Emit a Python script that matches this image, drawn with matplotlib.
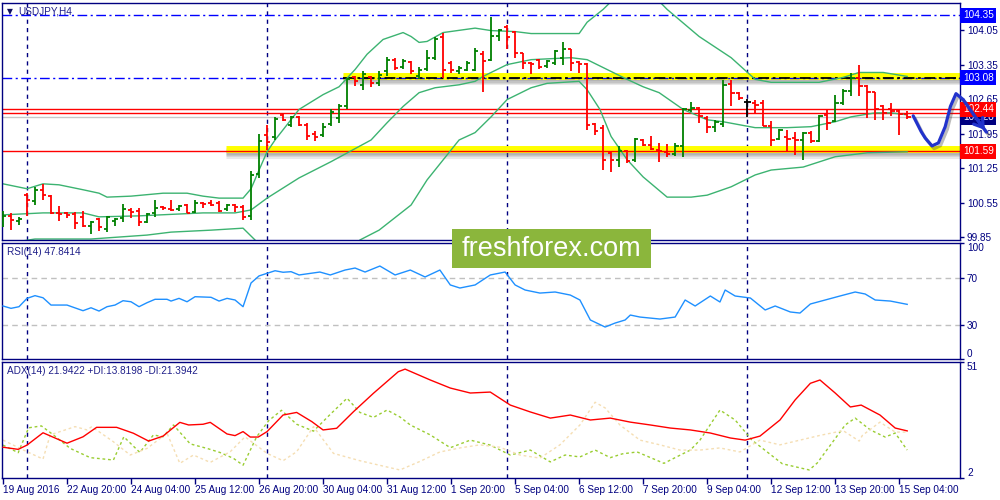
import matplotlib
matplotlib.use('Agg')
import matplotlib.pyplot as plt
import matplotlib.patheffects as pe
import matplotlib.transforms as mtransforms
from matplotlib.patches import Rectangle

plt.rcParams['font.family'] = ['Liberation Sans', 'DejaVu Sans']

# ---- USDJPY H4 bars (bar 0 = 19 Aug 2016 12:00) ----
opens = [100.22, 100.27, 100.18, 100.70, 100.58, 100.81, 100.68, 100.34, 100.33, 100.32,
         100.26, 100.07, 100.21, 100.01, 100.18, 100.23, 100.40, 100.38, 100.15, 100.33,
         100.45, 100.42, 100.41, 100.50, 100.36, 100.54, 100.55, 100.54, 100.41, 100.50,
         100.46, 100.27, 101.12, 101.93, 101.89, 102.33, 102.13, 102.29, 102.13, 101.95,
         101.93, 102.15, 102.27, 102.50, 103.09, 102.94, 103.09, 102.97, 103.21, 103.45,
         103.31, 103.41, 103.11, 103.27, 103.49, 103.90, 103.39, 103.21, 103.25, 103.25,
         103.56, 103.45, 103.94, 104.12, 104.01, 103.58, 103.39, 103.44, 103.33, 103.39,
         103.49, 103.66, 103.40, 103.37, 102.15, 102.06, 101.55, 101.42, 101.59, 101.42,
         101.82, 101.72, 101.62, 101.58, 101.54, 101.69, 102.43, 102.47, 102.26, 102.09,
         102.15, 102.96, 102.77, 102.60, 102.58, 102.57, 102.11, 101.84, 101.89, 101.86,
         101.82, 101.97, 101.79, 102.33, 102.20, 102.57, 102.81, 103.08, 102.91, 102.79,
         102.50, 102.44, 102.40, 102.35]
highs = [100.38, 100.33, 100.26, 100.74, 100.87, 100.92, 100.70, 100.48, 100.36, 100.36,
         100.38, 100.18, 100.24, 100.27, 100.24, 100.52, 100.43, 100.43, 100.33, 100.60,
         100.48, 100.60, 100.50, 100.52, 100.60, 100.57, 100.60, 100.58, 100.52, 100.52,
         100.50, 101.20, 101.95, 102.13, 102.29, 102.37, 102.30, 102.31, 102.16, 102.00,
         102.16, 102.44, 102.56, 103.08, 103.11, 103.23, 103.11, 103.23, 103.51, 103.49,
         103.47, 103.42, 103.30, 103.64, 103.90, 104.00, 103.42, 103.32, 103.42, 103.69,
         103.62, 104.32, 104.08, 104.15, 104.03, 103.59, 103.40, 103.47, 103.45, 103.64,
         103.81, 103.67, 103.42, 103.39, 102.16, 102.13, 101.59, 101.69, 101.62, 101.86,
         101.84, 101.91, 101.76, 101.74, 101.76, 102.47, 102.60, 102.49, 102.30, 102.23,
         103.04, 103.03, 102.79, 102.65, 102.64, 102.63, 102.20, 102.05, 102.03, 101.99,
         101.99, 102.00, 102.33, 102.44, 102.74, 102.86, 103.18, 103.35, 102.94, 102.79,
         102.54, 102.58, 102.45, 102.40]
lows = [100.05, 99.99, 100.10, 100.27, 100.50, 100.60, 100.31, 100.18, 100.23, 100.02,
        100.05, 99.92, 99.98, 99.96, 100.07, 100.16, 100.23, 100.07, 100.13, 100.26,
        100.40, 100.38, 100.38, 100.33, 100.34, 100.43, 100.48, 100.36, 100.38, 100.36,
        100.20, 100.20, 101.05, 101.62, 101.82, 102.20, 102.08, 102.11, 101.82, 101.80,
        101.89, 102.10, 102.16, 102.44, 102.91, 102.84, 102.90, 102.92, 103.11, 103.25,
        103.26, 103.15, 103.05, 103.23, 103.45, 103.08, 103.18, 103.15, 103.22, 103.22,
        102.79, 103.43, 103.83, 103.66, 103.49, 103.26, 103.15, 103.26, 103.28, 103.35,
        103.35, 103.22, 103.18, 102.03, 101.92, 101.21, 101.18, 101.28, 101.36, 101.38,
        101.69, 101.62, 101.38, 101.48, 101.50, 101.47, 102.38, 102.16, 101.96, 101.99,
        102.08, 102.51, 102.63, 102.28, 102.37, 102.10, 101.69, 101.81, 101.57, 101.52,
        101.42, 101.76, 101.77, 102.03, 102.18, 102.54, 102.72, 102.71, 102.27, 102.23,
        102.22, 102.31, 101.93, 102.24]
closes = [100.27, 100.19, 100.22, 100.60, 100.81, 100.70, 100.33, 100.32, 100.30, 100.13,
          100.07, 100.16, 100.06, 100.25, 100.22, 100.41, 100.36, 100.15, 100.32, 100.43,
          100.43, 100.39, 100.48, 100.34, 100.54, 100.52, 100.50, 100.38, 100.50, 100.46,
          100.26, 101.10, 101.80, 101.78, 102.25, 102.23, 102.29, 102.13, 101.90, 101.88,
          102.09, 102.39, 102.50, 103.05, 103.01, 103.15, 102.97, 103.13, 103.45, 103.29,
          103.43, 103.21, 103.25, 103.49, 103.86, 103.25, 103.25, 103.29, 103.39, 103.62,
          103.43, 103.94, 104.05, 103.90, 103.59, 103.39, 103.37, 103.31, 103.42, 103.62,
          103.67, 103.39, 103.37, 102.13, 102.01, 101.42, 101.42, 101.59, 101.40, 101.84,
          101.72, 101.63, 101.59, 101.54, 101.69, 102.45, 102.46, 102.30, 102.09, 102.19,
          102.94, 102.77, 102.67, 102.60, 102.53, 102.11, 101.82, 102.03, 101.84, 101.82,
          101.97, 101.79, 102.31, 102.16, 102.57, 102.81, 103.08, 102.91, 102.79, 102.44,
          102.37, 102.40, 102.35, 102.29]

# Bollinger bands (bar index, price)
bb_up_idx = [0, 3, 5, 7, 10, 12, 13, 16, 20, 23, 25, 27, 30, 31, 32, 33, 34, 37, 40, 42,
             44, 45.5, 47.5, 50, 51, 52, 53, 55, 59, 61, 64, 66, 72, 73, 75, 78, 81, 83,
             87, 91, 94, 96, 102, 105, 107, 110, 113]
bb_up = [100.93, 100.83, 100.93, 100.91, 100.81, 100.74, 100.66, 100.68, 100.74, 100.74,
         100.68, 100.64, 100.64, 100.83, 101.21, 101.58, 101.82, 102.44, 102.74, 102.90,
         103.25, 103.56, 103.86, 104.00, 103.92, 103.80, 103.82, 104.00, 104.09, 104.04,
         104.02, 103.98, 103.98, 104.21, 104.47, 104.95, 104.80, 104.47, 103.92, 103.49,
         103.05, 102.99, 102.99, 103.09, 103.19, 103.19, 103.11]
bb_mid_idx = [0, 5, 10, 12, 17, 25, 29, 31, 33, 37, 41, 46, 48, 50, 52, 54, 57, 59, 60,
              63, 66, 71, 73, 76, 78, 80, 82, 85, 88, 90, 94, 98, 101, 104, 106, 109, 111, 113]
bb_mid = [100.30, 100.34, 100.34, 100.26, 100.28, 100.34, 100.34, 100.40, 100.64, 101.05,
          101.38, 101.82, 102.17, 102.50, 102.78, 102.88, 102.94, 103.01, 103.11, 103.35,
          103.45, 103.49, 103.45, 103.21, 103.05, 102.90, 102.78, 102.44, 102.23, 102.19,
          102.07, 102.07, 102.09, 102.19, 102.29, 102.37, 102.37, 102.33]
bb_low_idx = [0, 4, 11, 18, 21, 26, 30, 31.5, 33, 37, 41, 44.6, 47, 51, 53, 57, 59, 61,
              63, 66, 68, 72, 73, 74.6, 76, 78, 80, 83, 86, 88, 91, 94, 96, 100, 104, 108, 113]
bb_low = [99.71, 99.81, 99.81, 99.89, 99.95, 99.99, 100.03, 99.79, 99.28, 98.77, 98.97,
          99.79, 99.99, 100.50, 101.01, 101.82, 101.97, 102.29, 102.64, 102.88, 102.97,
          103.01, 102.84, 102.44, 101.89, 101.42, 101.07, 100.66, 100.66, 100.70, 100.87,
          101.11, 101.21, 101.27, 101.48, 101.56, 101.58]

# RSI(14)
rsi_idx = [0, 1, 2, 3, 4, 5, 6, 8, 10, 11, 12, 13, 14, 15, 16, 17, 18, 19, 20.5, 21, 22,
           23, 24, 26, 27, 28, 29, 30, 31, 32, 33, 34, 35, 36, 37, 39.6, 40.9, 42.75, 44,
           45.25, 47.1, 49, 50.9, 52.75, 54.6, 55.9, 57.1, 59, 60.9, 62.75, 64, 65.25,
           67.1, 69, 70.9, 72.1, 73.4, 75.25, 76.5, 77.75, 78.4, 79.6, 82.1, 84, 85.25,
           86.5, 88.4, 89.6, 90.25, 91.5, 93.4, 95.25, 96.5, 98.4, 99.6, 100.9, 102.75,
           104.6, 106.5, 107.75, 109, 110.9, 113]
rsi_val = [46.4, 44.4, 45.8, 52.9, 55.2, 53.4, 47.2, 47.2, 42.4, 44.9, 42.1, 45.8, 47.2,
           50.9, 50.0, 45.8, 49.2, 52.1, 52.1, 50.6, 52.9, 50.0, 54.3, 53.8, 50.6, 52.9,
           51.5, 45.8, 66.0, 72.0, 74.2, 76.4, 75.1, 75.6, 72.8, 75.3, 72.8, 77.0, 78.7,
           75.3, 80.4, 72.8, 77.0, 71.1, 77.0, 64.3, 61.7, 64.3, 72.8, 75.3, 64.3, 60.0,
           57.4, 58.3, 55.7, 51.5, 34.5, 28.5, 31.9, 34.5, 38.7, 37.0, 35.3, 37.0, 51.5,
           46.4, 54.9, 49.8, 60.0, 54.9, 53.2, 43.0, 46.4, 41.3, 40.4, 48.1, 51.5, 54.9,
           58.3, 56.6, 51.5, 50.6, 47.8]

# ADX(14), +DI, -DI
adx_idx = [0, 1.9, 3, 5, 8, 10, 11.7, 14.2, 16.3, 18.2, 20, 22.1, 23.2, 25, 25.9, 28, 29,
           30, 30.9, 31.9, 33, 35, 36.7, 38.6, 40, 41.7, 43.8, 46.3, 49.4, 50.25, 53.4,
           55.9, 58.4, 60.9, 63.4, 65.9, 68.4, 70.9, 73.4, 75.9, 78.4, 80.9, 83.4, 85.9,
           88.4, 90.9, 92.75, 94.6, 97.1, 99, 100.9, 102.1, 104, 105.9, 107.25, 109.6,
           111.5, 113]
adx_val = [15.0, 14.1, 15.9, 21.1, 16.7, 19.4, 23.4, 23.4, 20.9, 17.6, 19.7, 25.5, 24.4,
           24.7, 25.5, 20.6, 19.9, 21.6, 19.3, 19.3, 21.6, 28.6, 29.7, 25.8, 22.3, 23.0,
           30.0, 37.8, 46.9, 48.0, 43.4, 40.0, 37.9, 38.3, 32.8, 29.9, 27.3, 28.6, 26.5,
           27.3, 25.6, 24.4, 23.1, 22.3, 21.0, 18.9, 18.0, 19.7, 26.5, 35.0, 42.0, 43.4,
           37.9, 32.0, 32.8, 28.6, 23.1, 21.9]
pdi_idx = [0, 1.9, 3.2, 4.8, 6.3, 8.4, 10.9, 13.8, 15.1, 17.1, 18.8, 20, 21.3, 23.4, 25.5,
           27.1, 28.8, 30, 31.7, 33.2, 34.8, 36.7, 38.8, 40.9, 43, 44.6, 46.3, 48, 49.6,
           50.9, 53.4, 55.9, 58.4, 60.9, 63.4, 65.9, 68.4, 70.25, 72.1, 74, 75.9, 77.4,
           79.25, 82.6, 84, 85.9, 87.1, 89.6, 91.5, 93.6, 97.4, 100.75, 101.75, 102.6,
           105.25, 106.5, 108.4, 110.25, 111.5, 113]
pdi_val = [15.9, 12.7, 23.2, 24.0, 20.2, 14.5, 10.6, 9.6, 19.4, 12.8, 20.2, 19.4, 24.4,
           16.4, 14.5, 12.8, 10.3, 7.4, 19.4, 26.2, 30.6, 24.7, 21.8, 28.9, 35.7, 29.7,
           27.6, 30.7, 27.8, 24.4, 20.2, 14.8, 18.0, 15.9, 11.7, 13.8, 8.8, 11.7, 10.9,
           13.8, 10.6, 12.2, 13.0, 8.2, 10.6, 13.8, 18.0, 30.7, 26.5, 18.0, 8.0, 5.4, 8.3,
           12.2, 24.4, 27.3, 22.3, 19.3, 21.0, 13.8]
mdi_idx = [0, 3, 5, 5.9, 9, 10.5, 11.1, 13.8, 15.9, 18, 20.5, 22.1, 23.8, 25.9, 28.4,
           30.25, 31.3, 33, 35, 36.7, 38.8, 41.3, 44.6, 49.6, 52.1, 54.6, 57.1, 59.6, 62.1,
           64.6, 67.1, 69.6, 72.1, 74, 75.25, 77.1, 79.6, 82.1, 84.6, 87.1, 89.6, 92.1,
           94.6, 97.1, 99.6, 102.1, 105, 107, 107.4, 109.6, 111.5, 113]
mdi_val = [18.0, 13.1, 10.0, 20.2, 23.7, 22.3, 23.7, 17.3, 11.7, 14.5, 20.9, 8.2, 11.7,
           8.6, 13.1, 19.4, 16.7, 12.4, 9.3, 13.1, 23.7, 12.4, 9.3, 5.4, 9.0, 13.0, 14.7,
           16.0, 15.0, 11.7, 10.4, 16.0, 24.4, 34.0, 31.6, 24.4, 18.0, 16.0, 13.8, 13.8,
           14.7, 13.0, 18.0, 16.0, 18.0, 20.0, 22.0, 17.6, 20.0, 25.6, 21.4, 21.4]

# levels and the hand-drawn forecast
bid_price = 102.28
level_blue = [104.35, 103.08]
level_red = [102.44, 102.36, 101.59]
zone_top, zone_top_start = 103.08, 42.5
zone_low, zone_low_start = 101.59, 27.9
forecast_x = [113.75, 114.75, 115.25, 116.1, 116.9, 117.75, 118.4, 119.1, 120.0, 121.5, 122.9]
forecast_y = [102.31, 101.99, 101.86, 101.70, 101.76, 102.09, 102.50, 102.76, 102.64, 102.29, 101.98]
week_starts = [3, 33, 63, 93]
time_labels = ['19 Aug 2016', '22 Aug 20:00', '24 Aug 04:00', '25 Aug 12:00', '26 Aug 20:00',
               '30 Aug 04:00', '31 Aug 12:00', '1 Sep 20:00', '5 Sep 04:00', '6 Sep 12:00',
               '7 Sep 20:00', '9 Sep 04:00', '12 Sep 12:00', '13 Sep 20:00', '15 Sep 04:00']
price_ticks = [104.05, 103.35, 102.65, 101.95, 101.25, 100.55, 99.85]

NAVY = '#000080'
GREEN = '#008000'
RED = '#ff0000'
XMIN, XMAX = -0.125, 119.6

fig = plt.figure(figsize=(10, 5), dpi=100)
ax = fig.add_axes([0.002, 0.52, 0.958, 0.474])
ax_rsi = fig.add_axes([0.002, 0.282, 0.958, 0.232])
ax_adx = fig.add_axes([0.002, 0.044, 0.958, 0.232])

for a in (ax, ax_rsi, ax_adx):
    a.set_xlim(XMIN, XMAX)
    for s in a.spines.values():
        s.set_color(NAVY)
        s.set_linewidth(1)
    a.yaxis.tick_right()
    a.tick_params(axis='y', colors=NAVY, labelcolor=NAVY, labelsize=7.2, length=3, width=1, pad=2)
    a.tick_params(axis='x', colors=NAVY, labelcolor=NAVY, labelsize=7.2, length=4, width=1, pad=1)
    for w in week_starts:
        a.axvline(w, color=NAVY, lw=1, ls=(0, (3, 3)), zorder=1)

# ---- main price panel ----
ax.set_ylim(99.79, 104.60)
ax.set_xticks([])
ax.set_yticks(price_ticks)
ax.set_yticklabels(['%.2f' % p for p in price_ticks])

up = mtransforms.offset_copy(ax.transData, fig=fig, y=2, units='dots')
shadow = [pe.SimpleLineShadow(offset=(0, -k), shadow_color='#606060', alpha=0.14) for k in (1, 2, 3, 4)]
for lvl, x0 in ((zone_top, zone_top_start), (zone_low, zone_low_start)):
    ax.plot([x0, XMAX], [lvl, lvl], color='#ffff00', lw=5, solid_capstyle='butt',
            transform=up, zorder=1.5, path_effects=shadow + [pe.Normal()])

ax.axhline(bid_price, color='#c8c8c8', lw=1, zorder=2)
for lvl in level_red:
    ax.axhline(lvl, color=RED, lw=1, zorder=2)
for lvl in level_blue:
    ax.axhline(lvl, color='#0000ff', lw=1, ls=(0, (7, 2.5, 1.5, 2.5)), zorder=2)
ax.plot([zone_top_start, XMAX], [zone_top, zone_top], color='black', lw=1.3,
        ls=(0, (6, 2, 1.5, 2)), zorder=2.2)

ax.plot(bb_up_idx, bb_up, color='#3cb371', lw=1, zorder=2.5)
ax.plot(bb_mid_idx, bb_mid, color='#3cb371', lw=1, zorder=2.5)
ax.plot(bb_low_idx, bb_low, color='#3cb371', lw=1, zorder=2.5)

for i, (o, h, l, c) in enumerate(zip(opens, highs, lows, closes)):
    col = GREEN if c > o else (RED if c < o else 'black')
    ax.vlines(i, l, h, color=col, lw=1.3, zorder=3)
    ax.hlines(o, i - 0.42, i, color=col, lw=1.3, zorder=3)
    ax.hlines(c, i, i + 0.42, color=col, lw=1.3, zorder=3)

# hand-drawn forecast path with its arrow
fc = '#2233cc'
curve_fx = [pe.SimpleLineShadow(offset=(1.5, -2), shadow_color='#404040', alpha=0.35), pe.Normal()]
ax.plot(forecast_x, forecast_y, color=fc, lw=2.3, clip_on=False, zorder=10,
        solid_capstyle='round', solid_joinstyle='round', path_effects=curve_fx)
ax.annotate('', xy=(forecast_x[-1], forecast_y[-1]), xytext=(forecast_x[-2], forecast_y[-2]),
            arrowprops=dict(arrowstyle='->,head_length=0.6,head_width=0.4', color=fc, lw=2.3),
            annotation_clip=False, zorder=10)

# price tags on the right scale
tag = mtransforms.blended_transform_factory(ax.transAxes, ax.transData)
for p, bg in ((104.35, '#0000ff'), (103.08, '#0000ff'), (bid_price, NAVY), (102.44, RED), (101.59, RED)):
    ax.text(1.003, p, '%.2f' % p, transform=tag, color='white', fontsize=7.2, ha='left', va='center',
            bbox=dict(boxstyle='square,pad=0.25', fc=bg, ec='none'), zorder=9, clip_on=False)

ax.text(0.005, 0.965, '\u25bc', transform=ax.transAxes, fontsize=5.5, color='#101060',
        ha='left', va='center', family='DejaVu Sans')
ax.text(0.017, 0.965, 'USDJPY,H4', transform=ax.transAxes, fontsize=7.2, color='#20208a',
        ha='left', va='center')

# ---- RSI panel ----
ax_rsi.set_ylim(1.3, 100)
ax_rsi.set_xticks([])
ax_rsi.axhline(70, color='#c0c0c0', lw=1, ls=(0, (4, 3)))
ax_rsi.axhline(30, color='#c0c0c0', lw=1, ls=(0, (4, 3)))
ax_rsi.plot(rsi_idx, rsi_val, color='#1e90ff', lw=1, zorder=3)
ax_rsi.set_yticks([100, 70, 30, 1.3])
ax_rsi.set_yticklabels(['100', '70', '30', '0'])
rl = ax_rsi.get_yticklabels()
rl[0].set_va('top')
rl[3].set_va('bottom')
ax_rsi.text(0.005, 0.92, 'RSI(14) 47.8414', transform=ax_rsi.transAxes, fontsize=7.2,
            color='#20208a', ha='left', va='center')

# ---- ADX panel ----
ax_adx.set_ylim(2, 51)
ax_adx.plot(pdi_idx, pdi_val, color='#9acd32', lw=1, ls=(0, (2, 2)), zorder=2)
ax_adx.plot(mdi_idx, mdi_val, color='#f5deb3', lw=1, ls=(0, (2, 2)), zorder=2)
ax_adx.plot(adx_idx, adx_val, color=RED, lw=1, zorder=3)
ax_adx.set_yticks([51, 2])
ax_adx.set_yticklabels(['51', '2'])
al = ax_adx.get_yticklabels()
al[0].set_va('top')
al[1].set_va('bottom')
ax_adx.set_xticks(range(0, 8 * len(time_labels), 8))
ax_adx.set_xticklabels(time_labels, ha='left')
ax_adx.text(0.005, 0.92, 'ADX(14) 21.9422 +DI:13.8198 -DI:21.3942', transform=ax_adx.transAxes,
            fontsize=7.2, color='#20208a', ha='left', va='center')

# site watermark
fig.patches.append(Rectangle((0.452, 0.464), 0.199, 0.078, transform=fig.transFigure,
                             fc='#8bb63c', ec='none', zorder=20))
fig.text(0.5515, 0.503, 'freshforex.com', color='white', fontsize=19.5, ha='center',
         va='center', zorder=21)

fig.savefig('out.png', dpi=100)
